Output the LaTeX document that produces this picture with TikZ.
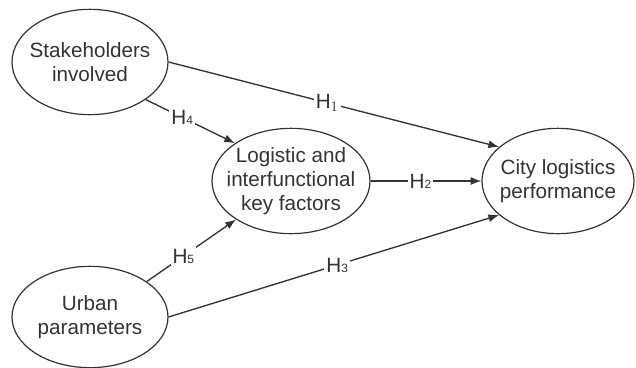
\documentclass[tikz,border=0pt]{standalone}
\usepackage{fontspec}
\setmainfont{Liberation Sans}
\usetikzlibrary{arrows.meta,shapes.geometric}

\begin{document}
\begin{tikzpicture}[x=0.75pt, y=-0.75pt,
    construct/.style={draw=black!80, ellipse, line width=0.9pt, inner xsep=-8pt, inner ysep=0pt,
      minimum width=117pt, minimum height=79pt, align=center, text=black!80,
      font=\fontsize{15.5}{18}\selectfont},
    path/.style={draw=black!80, line width=1pt, -{Latex[length=8pt,width=6pt]}},
    hyp/.style={fill=white, inner sep=1.5pt, text=black!80,
      font=\fontsize{15.5}{18}\selectfont}]
    \useasboundingbox (0,0) rectangle (636,368);
    \node[construct] (stake) at (90,62)   {Stakeholders\\involved};
    \node[construct, minimum height=76pt] (urban) at (90,317)  {Urban\\parameters};
    \node[construct, minimum width=118.5pt] (key) at (291,181) {Logistic and\\interfunctional\\key factors};
    \node[construct, minimum width=114pt] (city) at (558,181) {City logistics\\performance};
    \draw[path] (stake.east) -- node[hyp, pos=0.48] {H$_1$} (city.150);
    \draw[path] (key.east)   -- node[hyp, pos=0.45] {H{\small 2}} (city.west);
    \draw[path] (urban.east) -- node[hyp, pos=0.51] {H{\small 3}} (city.210);
    \draw[path] (stake.-34)  -- node[hyp, pos=0.41] {H{\small 4}} (key.146);
    \draw[path] (urban.32)   -- node[hyp, pos=0.41] {H{\small 5}} (key.215);
  \end{tikzpicture}
\end{document}
